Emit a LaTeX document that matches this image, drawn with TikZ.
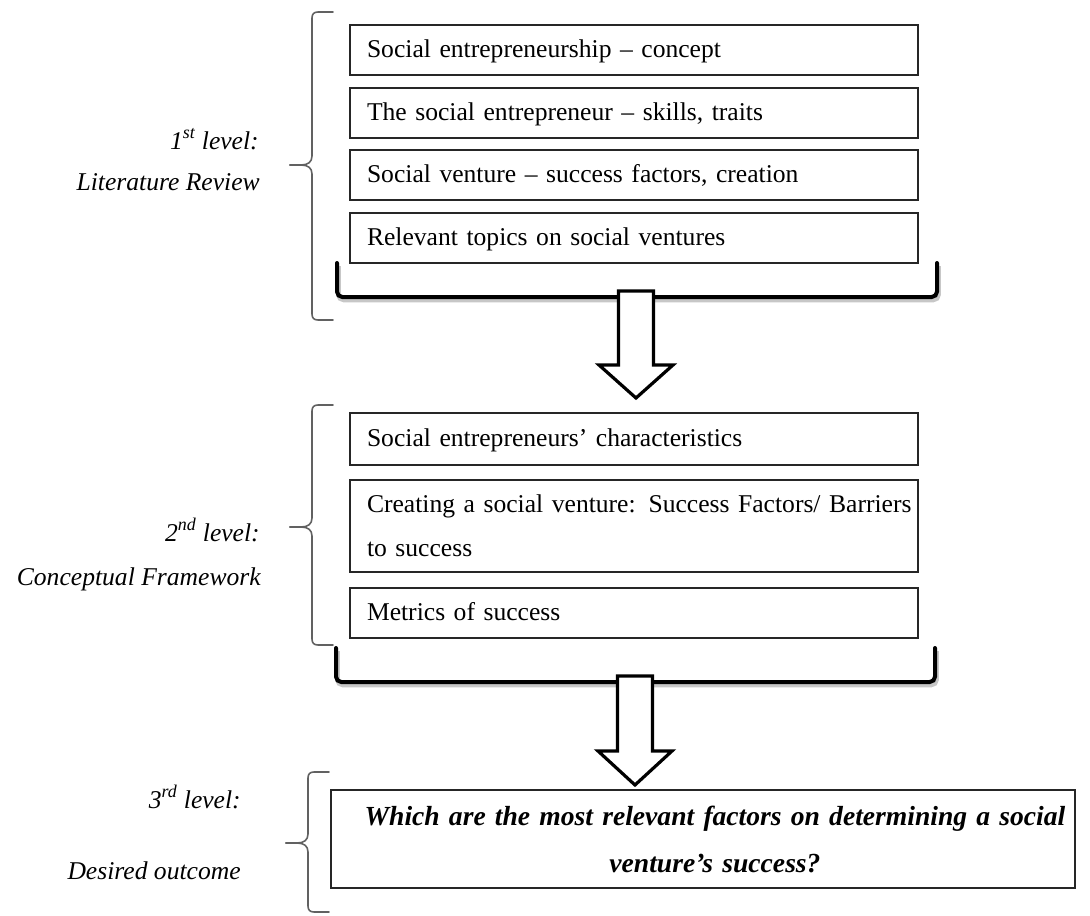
\documentclass[tikz,border=0pt]{standalone}
\usepackage{fontspec}
\setmainfont{Liberation Serif}
\usetikzlibrary{calc}
\newcommand\lvlbrace[5]{% #1 x of vertical, #2 top y, #3 tip y, #4 bottom y, #5 stub end x
  \draw[thinbrace] (#5,#2) -- ({#1+6},#2) .. controls ({#1+2},#2) and (#1,{#2+2}) .. (#1,{#2+6})
     -- (#1,{#3-9}) .. controls (#1,{#3-3}) and ({#1-4},#3) .. ({#1-11},#3) -- ({#1-22},#3);
  \draw[thinbrace] ({#1-22},#3) -- ({#1-11},#3) .. controls ({#1-4},#3) and (#1,{#3+3}) .. (#1,{#3+9})
     -- (#1,{#4-6}) .. controls (#1,{#4-2}) and ({#1+2},#4) .. ({#1+6},#4) -- (#5,#4);
}
\newcommand\bigbracket[4]{% #1 left x, #2 right x, #3 top y, #4 bottom y
  \draw[bracketshadow] (#1,#3) -- (#1,#4) -- (#2,#4) -- (#2,#3);
  \draw[bracket] (#1,#3) -- (#1,#4) -- (#2,#4) -- (#2,#3);
}
\begin{document}
\begin{tikzpicture}[x=0.75pt,y=-0.75pt,
  every node/.style={inner sep=0pt},
  txt/.style={font=\fontsize{19.2pt}{24pt}\selectfont},
  itembox/.style={txt, draw=black!85, line width=1pt, minimum width=426pt,
     minimum height=37.5pt, inner xsep=12.75pt, inner ysep=0pt, text width=400.5pt,
     align=left},
  oneline/.style={text height=14.4pt, text depth=3.9pt},
  lvl/.style={txt, font=\fontsize{19.2pt}{24pt}\selectfont\itshape, anchor=base east},
  thinbrace/.style={draw=black!62, line width=1.2pt, line cap=round, line join=round},
  bracket/.style={draw=black, line width=3pt, rounded corners=4pt, line cap=round},
  bracketshadow/.style={draw=black!22, line width=3.5pt, rounded corners=4pt, shift={(1.5,3)}},
  bigarrow/.style={draw=black, fill=white, line width=2.4pt, line join=miter}
]
\useasboundingbox (0,0) rectangle (1090,915);

% level 1 boxes
\node[itembox, oneline] (b1) at (634,50) {Social entrepreneurship -- concept};
\node[itembox, oneline] (b2) at (634,113) {The social entrepreneur -- skills, traits};
\node[itembox, oneline] (b3) at (634,175) {Social venture -- success factors, creation};
\node[itembox, oneline] (b4) at (634,238) {Relevant topics on social ventures};

% level 2 boxes
\node[itembox, oneline, minimum height=39pt] (c1) at (634,439) {Social entrepreneurs’ characteristics};
\node[itembox, minimum height=69pt, font=\fontsize{19.2pt}{33pt}\selectfont] (c2) at (634,526)
  {\mbox{Creating a social venture: Success Factors/ Barriers}\\to success};
\node[itembox, oneline] (c3) at (634,613) {Metrics of success};

% level 3 box
\node[txt, draw=black!85, line width=1pt, minimum width=558pt, minimum height=73.5pt,
      text width=548pt, align=center, font=\fontsize{20.7pt}{35.25pt}\selectfont\bfseries\itshape]
  (d1) at (703,839) {\hspace*{18pt}\mbox{Which are the most relevant factors on determining a social}\\\hspace*{18pt}venture’s success?};

% level labels
\node[lvl] (l1a) at (259,149) {1\textsuperscript{st} level:};
\node[lvl] (l1b) at (260,190) {Literature Review};
\node[lvl] (l2a) at (260,541) {2\textsuperscript{nd} level:};
\node[lvl] (l2b) at (261,585) {Conceptual Framework};
\node[lvl] (l3a) at (241,808) {3\textsuperscript{rd} level:};
\node[lvl] (l3b) at (241,879) {Desired outcome};

% thin braces
\lvlbrace{312}{12}{165}{320}{333}
\lvlbrace{312}{405}{527}{645}{333}
\lvlbrace{308}{772}{843}{912}{329}

% thick bottom brackets
\bigbracket{337}{937}{263}{297}
\bigbracket{336}{935}{648}{682}

% block arrows
\coordinate (a1s) at (636,291);
\coordinate (a1t) at (636,398);
\coordinate (a2s) at (635,676);
\coordinate (a2t) at (635,785);
\draw[bigarrow] ($(a1s)+(-17.5,0)$) -- ($(a1s)+(17.5,0)$) -- ($(a1t)+(17.5,-33)$)
   -- ($(a1t)+(37,-33)$) -- (a1t) -- ($(a1t)+(-37,-33)$) -- ($(a1t)+(-17.5,-33)$) -- cycle;
\draw[bigarrow] ($(a2s)+(-17.5,0)$) -- ($(a2s)+(17.5,0)$) -- ($(a2t)+(17.5,-34)$)
   -- ($(a2t)+(37,-34)$) -- (a2t) -- ($(a2t)+(-37,-34)$) -- ($(a2t)+(-17.5,-34)$) -- cycle;
\end{tikzpicture}
\end{document}
